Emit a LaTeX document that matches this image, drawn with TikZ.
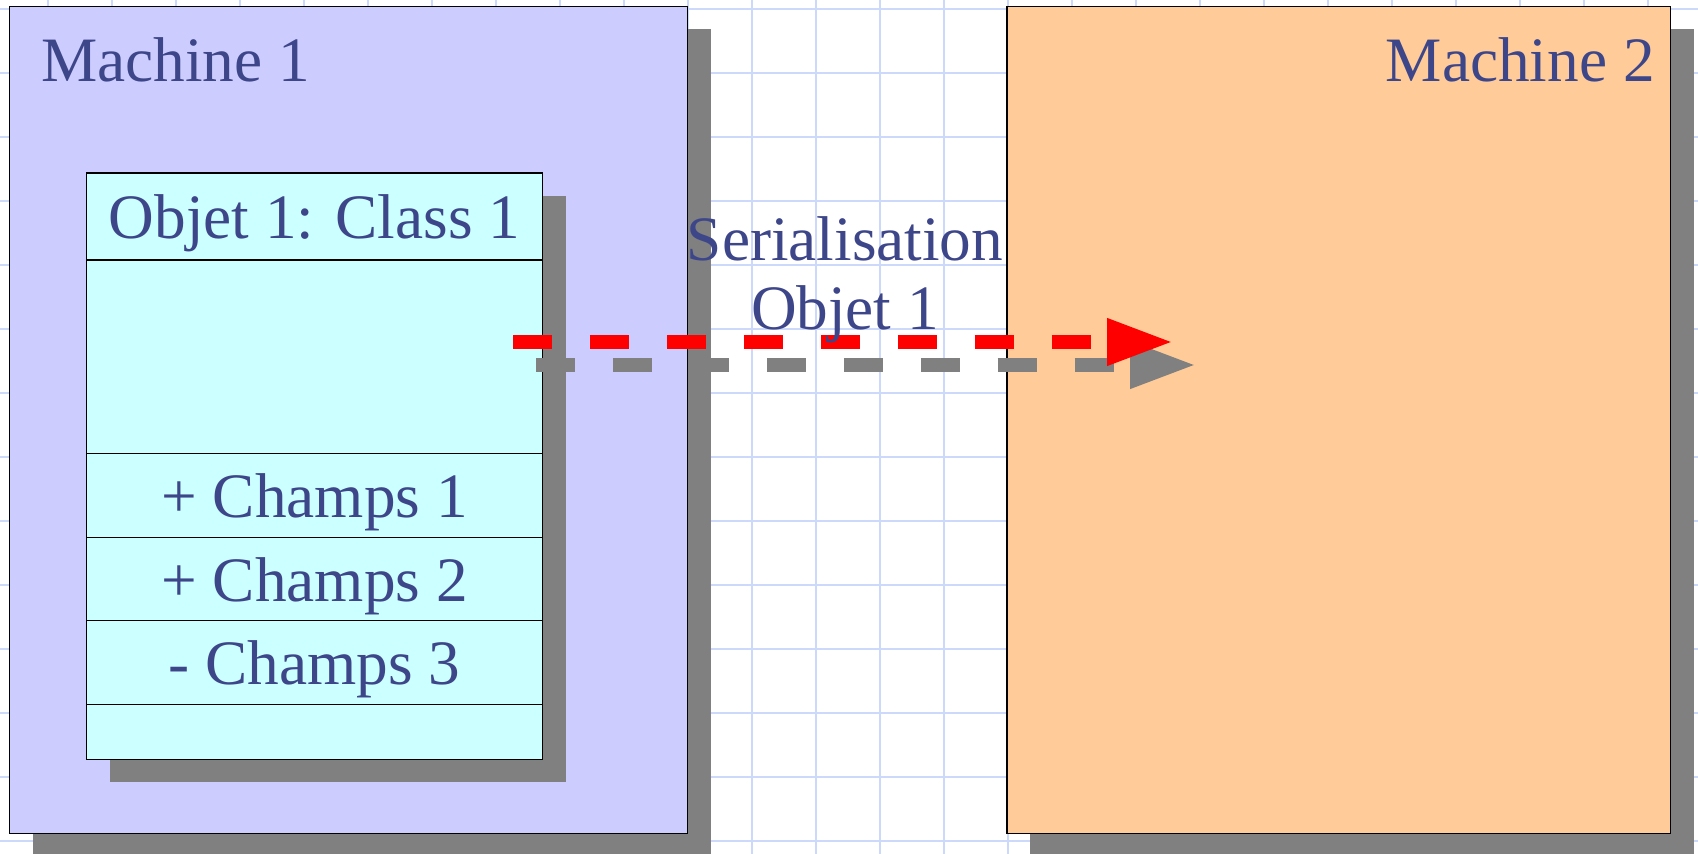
\documentclass[tikz,border=0pt]{standalone}
\usepackage{fontspec}
\setmainfont{Liberation Serif}
\usetikzlibrary{positioning,arrows.meta,shadows}
\definecolor{textblue}{RGB}{62,70,138}
\definecolor{machineA}{RGB}{204,204,255}
\definecolor{machineB}{RGB}{255,204,153}
\definecolor{objfill}{RGB}{204,255,255}
\definecolor{shadowgray}{RGB}{128,128,128}
\definecolor{gridblue}{RGB}{204,217,250}
\tikzset{
	big text/.style={text=textblue, font=\fontsize{36}{39}\selectfont},
	box shadow/.style={general shadow={fill=shadowgray, shadow xshift=0.46cm, shadow yshift=-0.46cm}},
	machine/.style={draw=black, line width=0.6pt, box shadow, minimum width=#1, minimum height=16.54cm, inner sep=0pt, outer sep=0pt},
	compart/.style={draw=black, line width=0.6pt, fill=objfill, box shadow, big text, text depth=0pt, minimum width=9.12cm, minimum height=#1, inner sep=0pt, outer sep=0pt},
	serial/.style={line width=8.5pt, dash pattern=on 22.2pt off 21.6pt, -{Triangle[length=38pt,width=24.5pt]}},
}
\begin{document}
\begin{tikzpicture}[x=0.02cm, y=-0.02cm]
						\useasboundingbox (0,0) rectangle (1698,854);
						\clip (0,0) rectangle (1698,854);
						% grid
						\foreach \gx in {48,112,...,1690} \draw[gridblue, line width=1.1pt] (\gx,0) -- (\gx,854);
						\foreach \gy in {9,73,...,850} \draw[gridblue, line width=1.1pt] (0,\gy) -- (1698,\gy);
						% machine 1 and the object
						\node[machine=13.56cm, fill=machineA, anchor=north west] (mach one) at (9.7,6.5) {};
						\node[big text, inner sep=0pt, anchor=base west] (mach one label) at (41,82) {Machine 1};
						\node[compart=1.74cm, anchor=north west] (obj head) at (86.6,173) {Objet 1: Class 1};
						\node[compart=3.88cm, below=0pt of obj head] (obj body) {};
						\node[compart=1.67cm, below=0pt of obj body] (field one) {+ Champs 1};
						\node[compart=1.67cm, below=0pt of field one] (field two) {+ Champs 2};
						\node[compart=1.67cm, below=0pt of field two] (field three) {- Champs 3};
						\node[compart=1.1cm, below=0pt of field three] (obj foot) {};
						% machine 2
						\node[machine=13.28cm, fill=machineB, anchor=north west] (mach two) at (1007,6.5) {};
						\node[big text, inner sep=0pt, anchor=base east] (mach two label) at (1655,82) {Machine 2};
						% serialisation arrow
						\coordinate (ser start) at (513,342);
						\coordinate (ser end) at (1174,342);
						\draw[serial, shadowgray] ([shift={(23,23)}]ser start) -- ([shift={(23,23)}]ser end);
						\draw[serial, red] (ser start) -- (ser end);
						\node[big text, align=center, inner sep=0pt] (ser label) at (845,280) {Serialisation\\Objet 1};
					\end{tikzpicture}
\end{document}
